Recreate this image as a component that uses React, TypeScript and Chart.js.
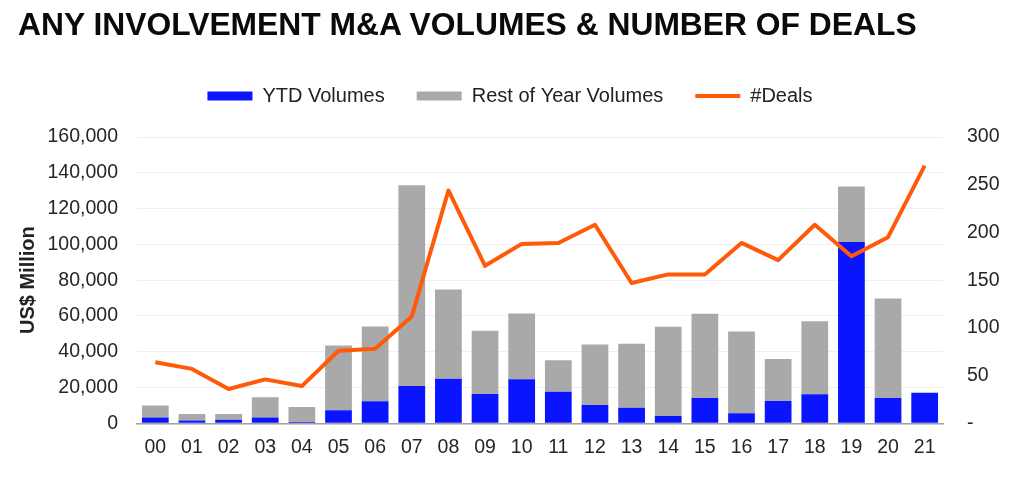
import React, { useEffect, useRef } from 'react';
import { Chart, registerables } from 'chart.js';

Chart.register(...registerables);

const years = ['00', '01', '02', '03', '04', '05', '06', '07', '08', '09', '10', '11', '12', '13', '14', '15', '16', '17', '18', '19', '20', '21'];
const ytdVolumes = [3300, 1500, 2000, 3300, 700, 7300, 12300, 20800, 24900, 16400, 24600, 17700, 10200, 8700, 4100, 14100, 5600, 12500, 16200, 101300, 14100, 17100];
const restOfYearVolumes = [6700, 3700, 3200, 11200, 8400, 36200, 41800, 112200, 49900, 35300, 36800, 17600, 33900, 35700, 49800, 47100, 45700, 23400, 40900, 31100, 55700, 0];
const dealCounts = [64, 57, 36, 46, 39, 76, 78, 112, 244, 165, 188, 189, 208, 147, 156, 156, 189, 171, 208, 175, 195, 270];

const FONT = '"Liberation Sans", Arial, sans-serif';

// push the plot down a bit below the legend
const legendSpacer = {
  id: 'legendSpacer',
  beforeInit(chart: any) {
    const fit = chart.legend.fit;
    chart.legend.fit = function () {
      fit.bind(chart.legend)();
      this.height += 21;
    };
  },
};

const App = () => {
  const chartRef = useRef<HTMLCanvasElement>(null);
  const chartInstance = useRef<Chart | null>(null);

  useEffect(() => {
    document.body.style.margin = '0';
    document.body.style.overflow = 'hidden';
    if (!chartRef.current) return;
    const ctx = chartRef.current.getContext('2d');
    if (!ctx) return;

    if (chartInstance.current) {
      chartInstance.current.destroy();
    }

    Chart.defaults.font.family = FONT;

    chartInstance.current = new Chart(ctx, {
      type: 'bar',
      data: {
        labels: years,
        datasets: [
          {
            label: 'YTD Volumes',
            data: ytdVolumes,
            backgroundColor: '#0a14ff',
            borderWidth: 0,
            pointStyle: 'rect',
            stack: 'vol',
            yAxisID: 'y',
            order: 1,
            categoryPercentage: 1,
            barPercentage: 0.73,
          } as any,
          {
            label: 'Rest of Year Volumes',
            data: restOfYearVolumes,
            backgroundColor: '#a9a9a9',
            borderWidth: 0,
            pointStyle: 'rect',
            stack: 'vol',
            yAxisID: 'y',
            order: 1,
            categoryPercentage: 1,
            barPercentage: 0.73,
          } as any,
          {
            type: 'line',
            label: '#Deals',
            data: dealCounts,
            borderColor: '#ff5a0a',
            backgroundColor: '#ff5a0a',
            borderWidth: 4,
            borderJoinStyle: 'round',
            pointRadius: 0,
            pointStyle: 'line',
            tension: 0,
            yAxisID: 'y1',
            order: 0,
          } as any,
        ],
      },
      options: {
        animation: false,
        responsive: true,
        maintainAspectRatio: false,
        layout: { padding: { top: 54, left: 14, right: 18, bottom: 22 } },
        plugins: {
          title: { display: false },
          tooltip: { enabled: false },
          legend: {
            display: true,
            position: 'top',
            labels: {
              usePointStyle: true,
              pointStyleWidth: 45,
              boxWidth: 45,
              boxHeight: 9,
              padding: 32,
              color: '#222',
              font: { size: 20, family: FONT },
              sort: (a: any, b: any) => a.datasetIndex - b.datasetIndex,
            },
          },
        },
        scales: {
          x: {
            stacked: true,
            grid: { display: false, drawTicks: false },
            border: { display: true, color: '#a0a0a0', width: 1.5 },
            ticks: { color: '#262626', font: { size: 19.5 }, padding: 13 },
            afterFit: (axis: any) => {
              axis.height = 35.7;
            },
          },
          y: {
            stacked: true,
            position: 'left',
            min: 0,
            max: 160000,
            grid: { color: '#efefef', lineWidth: 1, drawTicks: false },
            border: { display: false },
            ticks: {
              stepSize: 20000,
              padding: 19,
              color: '#262626',
              font: { size: 19.5 },
              callback: (v: any) => Number(v).toLocaleString('en-US'),
            },
            title: {
              display: true,
              text: 'US$ Million',
              color: '#222',
              font: { size: 20, weight: 'bold' },
              padding: { top: 2, bottom: 0 },
            },
            afterFit: (axis: any) => {
              axis.width = 123;
            },
          },
          y1: {
            position: 'right',
            min: 0,
            max: 300,
            grid: { display: false, drawTicks: false },
            border: { display: false },
            ticks: {
              stepSize: 50,
              padding: 24,
              color: '#262626',
              font: { size: 19.5 },
              callback: (v: any) => (Number(v) === 0 ? '-' : String(v)),
            },
            afterFit: (axis: any) => {
              axis.width = 63;
            },
          },
        },
      },
      plugins: [legendSpacer],
    });

    return () => {
      if (chartInstance.current) {
        chartInstance.current.destroy();
        chartInstance.current = null;
      }
    };
  }, []);

  return (
    <div style={{ position: 'relative', width: 1024, height: 481, background: '#fff' }}>
      <div
        style={{
          position: 'absolute',
          left: 18,
          top: 8,
          font: `bold 31.8px ${FONT}`,
          lineHeight: '32px',
          color: '#0a0a0a',
          whiteSpace: 'nowrap',
        }}
      >
        ANY INVOLVEMENT M&amp;A VOLUMES &amp; NUMBER OF DEALS
      </div>
      <canvas ref={chartRef} />
    </div>
  );
};

export default App;
